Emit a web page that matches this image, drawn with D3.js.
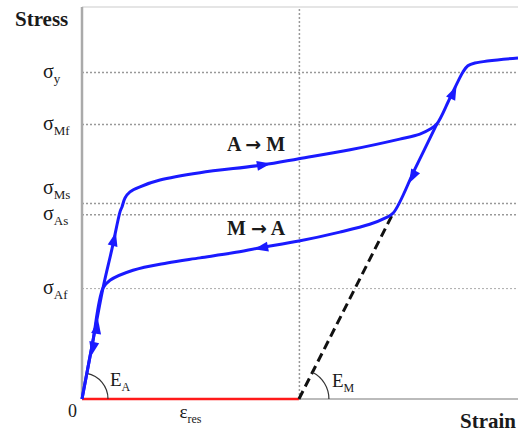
<!DOCTYPE html>
<meta charset="utf-8">
<style>
  body { margin: 0; background: #fff; }
  text { font-family: 'Liberation Serif', 'Times New Roman', serif; fill: #1a1a1a; }
  .grid line { stroke: #999; stroke-width: 1.5; stroke-dasharray: 2,2; }
  .grid .domain { display: none; }
</style>
<script src="https://d3js.org/d3.v7.min.js"></script>
<div id="chart"></div>
<script>
// strain in %, stress in MPa
var loadStrain = [0, 0.19, 0.385, 0.55, 0.70, 0.734, 0.789, 0.881, 1.064, 1.431, 2.165, 3.321, 3.98, 4.92, 5.83, 6.20, 6.39, 6.51, 6.75, 6.99, 7.08, 7.21, 8.0];
var loadStress = [0, 98, 198, 268, 335, 343, 359, 370, 379, 391, 404, 418, 429, 445, 464, 473, 482, 491, 537, 584, 595, 600, 609];

var unloadStrain = [0, 0.19, 0.385, 0.514, 0.936, 1.56, 2.165, 2.77, 3.27, 3.98, 4.73, 5.28, 5.56, 5.71, 6.11, 6.51];
var unloadStress = [0, 98, 198, 212, 230, 243, 252, 261, 270, 282, 298, 312, 323, 332, 411, 491];

// residual strain and the martensite elastic line
var resStrain = 3.98;
var emStrain = [3.98, 5.71];
var emStress = [0, 332];

// stress levels on the y axis
var stressTicks = [198, 330, 350, 491, 584];
var stressSubs = ["Af", "As", "Ms", "Mf", "y"];

// arrows: position and the point they head to
var arrowAt = [[0.275, 127], [0.202, 91], [0.587, 284], [3.321, 418], [3.303, 270], [6.07, 398], [6.81, 546]];
var arrowTo = [[0.385, 198], [0, 0], [0.734, 343], [3.98, 429], [2.53, 255], [5.71, 332], [6.99, 584]];

var margin = {top: 7, right: 0, bottom: 33, left: 82},
    width = 518 - margin.left - margin.right,
    height = 432 - margin.top - margin.bottom;

var svgRoot = d3.select("#chart")
  .append("svg")
    .attr("width", 518)
    .attr("height", 432);
var svg = svgRoot.append("g")
    .attr("transform", "translate(" + margin.left + "," + margin.top + ")");

var x = d3.scaleLinear().domain([0, 8]).range([0, width]);
var y = d3.scaleLinear().domain([0, 700]).range([height, 0]);

// dotted stress levels
svg.append("g")
    .attr("class", "grid")
    .call(d3.axisLeft(y).tickValues(stressTicks).tickSize(-width).tickFormat(""))
  .selectAll(".tick line")
    .style("stroke-width", function(d) { return d == 198 ? 1 : 1.5; })
    .style("stroke", function(d) { return d == 198 ? "#aaa" : "#999"; });

// dotted vertical at residual strain
svg.append("g")
    .attr("class", "grid")
    .attr("transform", "translate(0," + height + ")")
    .call(d3.axisBottom(x).tickValues([resStrain]).tickSize(-height).tickFormat(""));

// frame
svg.append("line").attr("x1", 0).attr("x2", width).attr("y1", 0).attr("y2", 0)
    .style("stroke", "#ddd").style("stroke-width", 1.5);
svg.append("line").attr("x1", 0).attr("x2", 0).attr("y1", 0).attr("y2", height)
    .style("stroke", "#aaa").style("stroke-width", 2.5);
svg.append("line").attr("x1", 0).attr("x2", width).attr("y1", height).attr("y2", height)
    .style("stroke", "#bbb").style("stroke-width", 2);
svg.append("line").attr("x1", x(0)).attr("x2", x(resStrain)).attr("y1", y(0)).attr("y2", y(0))
    .style("stroke", "#ff1a1a").style("stroke-width", 2.5);

// stress labels
stressTicks.forEach(function(v, i) {
  var t = svg.append("text")
      .attr("x", -39)
      .attr("y", y(v) + (stressSubs[i] == "Ms" ? -9 : 6))
      .style("font-size", "20px");
  t.append("tspan").text("σ");
  t.append("tspan").attr("dy", 5).style("font-size", "13px").text(stressSubs[i]);
});

// dashed martensite unloading line
svg.append("line")
    .attr("x1", x(emStrain[0])).attr("y1", y(emStress[0]))
    .attr("x2", x(emStrain[1])).attr("y2", y(emStress[1]))
    .style("stroke", "#111").style("stroke-width", 3).style("stroke-dasharray", "9,5");

// angle arcs
function arc(cx, cy, r, px, py) {
  var a = Math.atan2(cy - py, px - cx);
  return "M" + (cx + r) + "," + cy + " A" + r + "," + r + " 0 0 0 " +
    (cx + r * Math.cos(a)) + "," + (cy - r * Math.sin(a));
}
svg.append("path").attr("d", arc(x(0), y(0), 26, x(loadStrain[2]), y(loadStress[2])))
    .style("fill", "none").style("stroke", "#333").style("stroke-width", 1.2);
svg.append("path").attr("d", arc(x(emStrain[0]), y(0), 30, x(emStrain[1]), y(emStress[1])))
    .style("fill", "none").style("stroke", "#333").style("stroke-width", 1.2);

// curves
var line = d3.line()
    .x(function(d) { return x(d[0]); })
    .y(function(d) { return y(d[1]); })
    .curve(d3.curveCatmullRom.alpha(0.5));

svg.append("path")
    .datum(d3.zip(unloadStrain, unloadStress))
    .attr("d", line)
    .style("fill", "none").style("stroke", "#1a1aff").style("stroke-width", 3);
svg.append("path")
    .datum(d3.zip(loadStrain, loadStress))
    .attr("d", line)
    .style("fill", "none").style("stroke", "#1a1aff").style("stroke-width", 3);

// arrow heads
arrowAt.forEach(function(p, i) {
  var q = arrowTo[i];
  var ang = Math.atan2(y(q[1]) - y(p[1]), x(q[0]) - x(p[0])) * 180 / Math.PI;
  svg.append("path")
      .attr("d", "M8,0 L-6,-5 L-6,5 Z")
      .attr("transform", "translate(" + x(p[0]) + "," + y(p[1]) + ") rotate(" + ang + ")")
      .style("fill", "#1a1aff");
});

// transformation labels
function transLabel(ty, a, b) {
  var t = svg.append("text").attr("x", 145).attr("y", ty)
      .style("font-size", "20px").style("font-weight", "bold");
  t.append("tspan").text(a + " ");
  t.append("tspan").style("font-family", "'DejaVu Sans', sans-serif").style("font-size", "19px").text("→");
  t.append("tspan").text(" " + b);
}
transLabel(144, "A", "M");
transLabel(228, "M", "A");

// modulus labels
var ea = svg.append("text").attr("x", x(0) + 28).attr("y", y(0) - 13).style("font-size", "19px");
ea.append("tspan").text("E");
ea.append("tspan").attr("dy", 5).style("font-size", "12px").text("A");
var em = svg.append("text").attr("x", x(resStrain) + 33).attr("y", y(0) - 12).style("font-size", "19px");
em.append("tspan").text("E");
em.append("tspan").attr("dy", 5).style("font-size", "12px").text("M");

// residual strain label
var er = svg.append("text").attr("x", x(resStrain / 2)).attr("y", height + 19)
    .attr("text-anchor", "middle").style("font-size", "19px");
er.append("tspan").text("ε");
er.append("tspan").attr("dy", 5).style("font-size", "12px").text("res");

// origin and axis names
svg.append("text").attr("x", -14).attr("y", height + 18).style("font-size", "18px").text("0");
svgRoot.append("text").attr("x", 15).attr("y", 26)
    .style("font-size", "21px").style("font-weight", "bold").text("Stress");
svgRoot.append("text").attr("x", 516).attr("y", 428).attr("text-anchor", "end")
    .style("font-size", "21px").style("font-weight", "bold").text("Strain");
</script>
